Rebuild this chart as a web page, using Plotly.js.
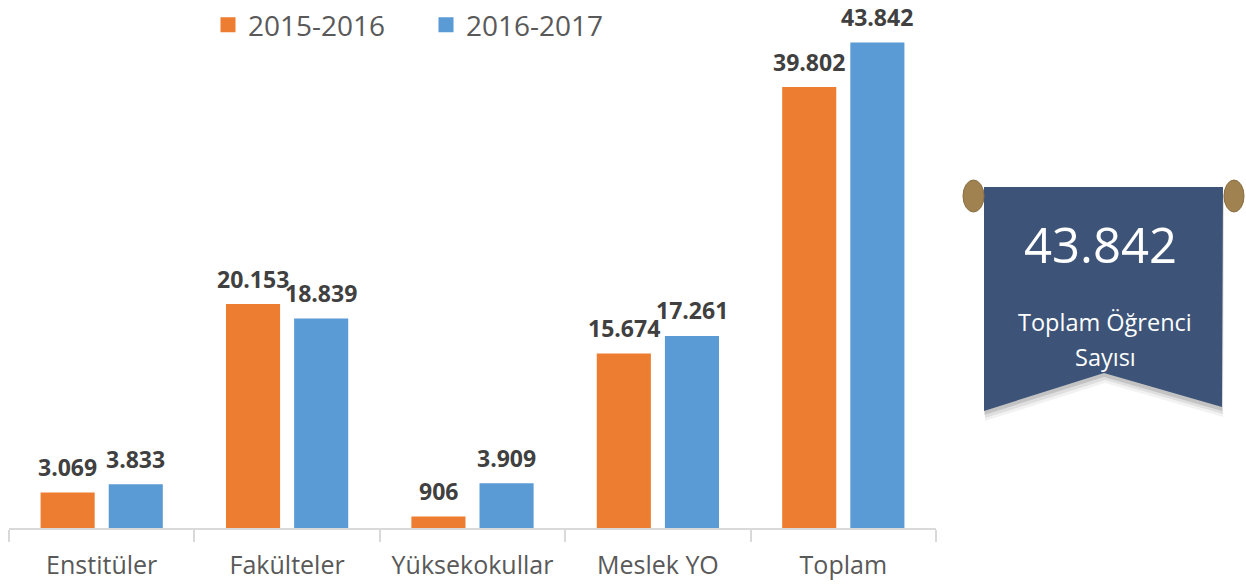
<!DOCTYPE html>
<html>
<head>
<meta charset="utf-8">
<script src="https://cdn.plot.ly/plotly-3.0.1.min.js"></script>
<style>html,body{margin:0;padding:0;background:#fff;}#chart{width:1246px;height:584px;}</style>
</head>
<body>
<div id="chart"></div>
<script>
// ---- data ----
var categories = ['Enstitüler', 'Fakülteler', 'Yüksekokullar', 'Meslek YO', 'Toplam'];
var seriesNames = ['2015-2016', '2016-2017'];
var values2015 = [3069, 20153, 906, 15674, 39802];
var values2016 = [3833, 18839, 3909, 17261, 43842];
var bannerValue = 43842;
var bannerLines = ['Toplam Öğrenci', 'Sayısı'];

// ---- layout constants ----
var W = 1246, H = 584;
var M = {l: 9, r: 310, t: 0, b: 56};
var PW = W - M.l - M.r, PH = H - M.t - M.b;
function px(x) { return (x - M.l) / PW; }
function py(y) { return 1 - (y - M.t) / PH; }
function fmt(v) { return String(v).replace(/\B(?=(\d{3})+(?!\d))/g, '.'); }

var orange = '#ED7D31', blue = '#5B9BD5';
var labelFont = {family: 'Open Sans', size: 23, color: '#404040', weight: 'bold'};

var traces = [
  {type: 'bar', name: seriesNames[0], x: categories, y: values2015, marker: {color: orange, line: {color: orange, width: 3}}, hoverinfo: 'skip'},
  {type: 'bar', name: seriesNames[1], x: categories, y: values2016, marker: {color: blue, line: {color: blue, width: 3}}, hoverinfo: 'skip'}
];

var annotations = [];
categories.forEach(function (c, i) {
  annotations.push({x: c, y: values2015[i], xref: 'x', yref: 'y', text: '<b>' + fmt(values2015[i]) + '</b>',
    showarrow: false, yanchor: 'bottom', xanchor: 'center', xshift: -34, yshift: 9, font: labelFont});
  annotations.push({x: c, y: values2016[i], xref: 'x', yref: 'y', text: '<b>' + fmt(values2016[i]) + '</b>',
    showarrow: false, yanchor: 'bottom', xanchor: 'center', xshift: 34, yshift: 9, font: labelFont});
});

// banner texts
annotations.push({xref: 'paper', yref: 'paper', x: px(1100), y: py(244), text: fmt(bannerValue), showarrow: false,
  xanchor: 'center', yanchor: 'middle', font: {family: 'Open Sans', size: 49, color: '#ffffff'}});
annotations.push({xref: 'paper', yref: 'paper', x: px(1105), y: py(322), text: bannerLines[0], showarrow: false,
  xanchor: 'center', yanchor: 'middle', font: {family: 'Open Sans', size: 23.5, color: '#ffffff'}});
annotations.push({xref: 'paper', yref: 'paper', x: px(1105), y: py(357), text: bannerLines[1], showarrow: false,
  xanchor: 'center', yanchor: 'middle', font: {family: 'Open Sans', size: 23.5, color: '#ffffff'}});

function pathFrom(pts) {
  return 'M' + pts.map(function (p) { return px(p[0]) + ',' + py(p[1]); }).join(' L') + ' Z';
}
var bannerPts = [[984, 187], [1223, 187], [1222, 407], [1104, 373], [984, 411]];
function shifted(pts, dx, dy) { return pts.map(function (p) { return [p[0] + dx, p[1] + dy]; }); }

var shapes = [
  {type: 'path', xref: 'paper', yref: 'paper', path: pathFrom(shifted(bannerPts, 1, 10)), fillcolor: 'rgba(0,0,0,0.05)', line: {width: 0}, layer: 'above'},
  {type: 'path', xref: 'paper', yref: 'paper', path: pathFrom(shifted(bannerPts, 1, 7)), fillcolor: 'rgba(0,0,0,0.08)', line: {width: 0}, layer: 'above'},
  {type: 'path', xref: 'paper', yref: 'paper', path: pathFrom(shifted(bannerPts, 0, 4)), fillcolor: 'rgba(0,0,0,0.12)', line: {width: 0}, layer: 'above'},
  {type: 'path', xref: 'paper', yref: 'paper', path: pathFrom(bannerPts), fillcolor: '#3D5478', line: {width: 0}, layer: 'above'},
  {type: 'circle', xref: 'paper', yref: 'paper', x0: px(963), x1: px(984), y0: py(180), y1: py(212), fillcolor: '#A08250', line: {color: '#8A6E42', width: 1}, layer: 'above'},
  {type: 'circle', xref: 'paper', yref: 'paper', x0: px(1224), x1: px(1244), y0: py(180), y1: py(212), fillcolor: '#A08250', line: {color: '#8A6E42', width: 1}, layer: 'above'}
];

var layout = {
  width: W, height: H,
  margin: M,
  paper_bgcolor: '#ffffff', plot_bgcolor: '#ffffff',
  barmode: 'group', bargap: 0.265, bargroupgap: 0.25,
  showlegend: true,
  legend: {orientation: 'h', xref: 'paper', yref: 'paper', x: px(208), y: py(25), xanchor: 'left', yanchor: 'middle',
    font: {family: 'Open Sans', size: 28, color: '#595959'}, entrywidth: 173, entrywidthmode: 'pixels', bgcolor: 'rgba(0,0,0,0)'},
  xaxis: {type: 'category', showline: true, linecolor: '#D9D9D9', linewidth: 2, ticks: 'outside', tickson: 'boundaries',
    ticklen: 12, tickwidth: 2, tickcolor: '#D9D9D9', showgrid: false, zeroline: false, ticklabelstandoff: 14,
    tickfont: {family: 'Open Sans', size: 25, color: '#595959'}},
  yaxis: {visible: false, range: [0, 47826], showgrid: false, zeroline: false},
  annotations: annotations,
  shapes: shapes
};

Plotly.newPlot('chart', traces, layout, {displayModeBar: false, staticPlot: true});
</script>
</body>
</html>
